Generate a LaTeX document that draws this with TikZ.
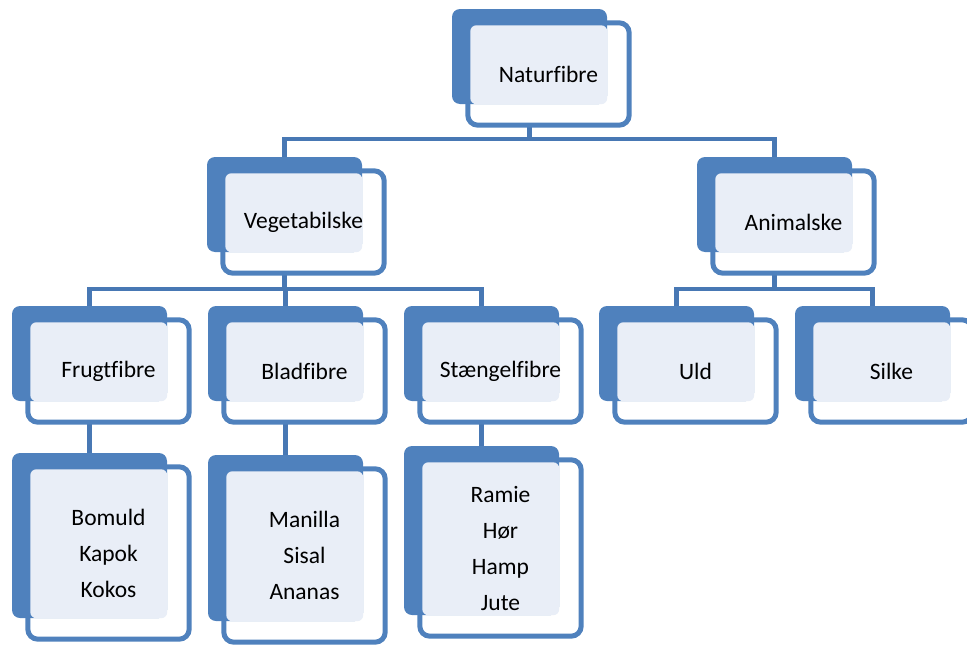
\documentclass[tikz,border=0pt]{standalone}
\usepackage{fontspec}
\setmainfont[Ligatures={NoCommon}]{Carlito}
\usetikzlibrary{calc}

\definecolor{fibblue}{RGB}{79,129,189}
\definecolor{fiblight}{RGB}{233,238,247}
\definecolor{fibline}{RGB}{72,120,180}

\pgfdeclarelayer{conn}
\pgfdeclarelayer{frames}
\pgfdeclarelayer{backs}
\pgfsetlayers{conn,frames,backs,main}

\tikzset{
  fibtext/.style={font=\fontsize{23.5pt}{36pt}\selectfont, align=center,
    minimum width=161pt, inner sep=0pt, text=black},
  fibframe/.style={draw=fibblue, fill=white, line width=5pt, rounded corners=10pt},
  fibback/.style={fill=fibblue, rounded corners=8pt, minimum width=155pt,
    inner sep=0pt, draw=none},
  fiblightfill/.style={fill=fiblight, rounded corners=6pt},
  fibconn/.style={draw=fibline, line width=4.5pt},
}

% name, centre x, centre y, front height, back height, text
\newcommand\fibrebox[6]{%
  \node[fibtext, minimum height=#4] (#1) at (#2,#3) {#6};
  \begin{pgfonlayer}{frames}
    \draw[fibframe] (#1.north west) rectangle (#1.south east);
  \end{pgfonlayer}
  \begin{pgfonlayer}{backs}
    \node[fibback, minimum height=#5, anchor=north west] (#1-b)
      at ($(#1.north west)+(-16,-14)$) {};
    \fill[fiblightfill] ($(#1.north west)+(2.5,2.5)$) rectangle (#1-b.south east);
  \end{pgfonlayer}
}

\begin{document}
\begin{tikzpicture}[x=1pt, y=-1pt]
  \useasboundingbox (0,0) rectangle (967,645);

  \fibrebox{nat}{548.5}{74}{102pt}{95pt}{Naturfibre}
  \fibrebox{veg}{303.5}{222}{102pt}{95pt}{Vegetabilske}
  \fibrebox{ani}{793.5}{222}{102pt}{95pt}{Animalske}

  \fibrebox{fru}{108.5}{371}{102pt}{95pt}{Frugtfibre}
  \fibrebox{bla}{304.5}{371}{102pt}{95pt}{Bladfibre}
  \fibrebox{stg}{500.5}{371}{102pt}{95pt}{Stængelfibre}
  \fibrebox{uld}{695.5}{371}{102pt}{95pt}{Uld}
  \fibrebox{sil}{891.5}{371}{102pt}{95pt}{Silke}

  \fibrebox{bom}{108.5}{553}{172pt}{165pt}{Bomuld\\Kapok\\Kokos}
  \fibrebox{man}{304.5}{555.5}{173pt}{166pt}{Manilla\\Sisal\\Ananas}
  \fibrebox{ram}{500.5}{548}{176pt}{169pt}{Ramie\\Hør\\Hamp\\Jute}

  \coordinate (busA) at (0,139);
  \coordinate (busB) at (0,289);

  \begin{pgfonlayer}{conn}
    \draw[fibconn] (nat-b.south |- nat.south) -- (nat-b.south |- busA);
    \draw[fibconn] (veg-b.north) -- (veg-b.north |- busA)
                   -- (ani-b.north |- busA) -- (ani-b.north);

    \draw[fibconn] (veg-b.south |- veg.south) -- (veg-b.south |- busB);
    \draw[fibconn] (fru-b.north) -- (fru-b.north |- busB)
                   -- (stg-b.north |- busB) -- (stg-b.north);
    \draw[fibconn] (bla-b.north) -- (bla-b.north |- busB);

    \draw[fibconn] (ani-b.south |- ani.south) -- (ani-b.south |- busB);
    \draw[fibconn] (uld-b.north) -- (uld-b.north |- busB)
                   -- (sil-b.north |- busB) -- (sil-b.north);

    \draw[fibconn] (fru-b.south |- fru.south) -- (bom-b.north);
    \draw[fibconn] (bla-b.south |- bla.south) -- (man-b.north);
    \draw[fibconn] (stg-b.south |- stg.south) -- (ram-b.north);
  \end{pgfonlayer}
\end{tikzpicture}
\end{document}
